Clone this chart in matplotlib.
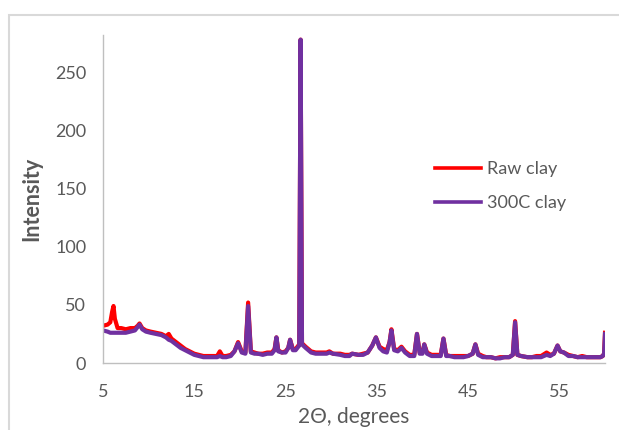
import matplotlib

matplotlib.use("Agg")
import matplotlib.pyplot as plt
from matplotlib.patches import Rectangle

# 2-theta positions shared by both patterns (degrees)
two_theta = [
    5.0, 5.5, 5.8, 6.0, 6.15, 6.3, 6.6, 7.0, 7.5, 8.0,
    8.5, 8.8, 9.0, 9.3, 9.7, 10.2, 10.8, 11.4, 11.9, 12.2,
    12.5, 13.0, 13.5, 14.0, 14.5, 15.0, 15.5, 16.0, 16.5, 17.0,
    17.5, 17.8, 18.1, 18.5, 19.0, 19.4, 19.8, 20.2, 20.6, 20.9,
    21.2, 21.6, 22.0, 22.5, 23.0, 23.5, 23.8, 24.0, 24.2, 24.6,
    25.0, 25.3, 25.5, 25.8, 26.1, 26.5, 26.65, 26.8, 27.2, 27.5,
    27.8, 28.3, 29.0, 29.5, 29.8, 30.2, 31.0, 31.5, 32.0, 32.3,
    33.0, 33.5, 34.0, 34.5, 34.9, 35.3, 35.7, 36.1, 36.4, 36.6,
    36.9, 37.3, 37.7, 38.1, 38.6, 39.1, 39.4, 39.7, 40.0, 40.2,
    40.5, 41.0, 41.5, 42.0, 42.3, 42.6, 43.0, 43.5, 44.0, 44.5,
    45.0, 45.5, 45.8, 46.1, 46.6, 47.0, 47.5, 48.0, 48.5, 49.0,
    49.5, 49.9, 50.15, 50.4, 50.8, 51.5, 52.0, 52.5, 53.0, 53.6,
    54.0, 54.4, 54.8, 55.1, 55.5, 56.0, 56.5, 57.0, 57.5, 58.0,
    58.5, 59.0, 59.5, 59.75, 59.9, 60.0,
]

raw_clay = [
    32, 33, 35, 44, 49, 38, 30, 30, 29, 30,
    30, 32, 34, 30, 28, 27, 26, 25, 23, 25,
    21, 18, 15, 12, 10, 8, 7, 6, 6, 6,
    6, 10, 6, 6, 7, 10, 18, 10, 9, 52,
    10, 9, 8, 8, 9, 9, 12, 22, 11, 9,
    10, 13, 20, 12, 12, 16, 278, 17, 14, 12,
    10, 9, 9, 9, 10, 8, 8, 7, 7, 8,
    7, 8, 9, 15, 22, 14, 12, 11, 18, 29,
    12, 11, 14, 10, 7, 7, 25, 9, 9, 16,
    9, 7, 7, 7, 21, 7, 6, 6, 6, 6,
    6, 8, 16, 8, 6, 5, 5, 4, 5, 5,
    5, 7, 36, 7, 6, 5, 5, 6, 6, 9,
    7, 8, 15, 10, 9, 7, 6, 5, 6, 5,
    5, 5, 5, 6, 8, 26,
]

clay_300c = [
    28, 27, 26, 26, 26, 26, 26, 26, 26, 27,
    28, 31, 33, 29, 27, 26, 25, 24, 22, 20,
    19, 16, 13, 11, 9, 7, 6, 5, 5, 5,
    5, 6, 5, 5, 6, 10, 17, 9, 8, 49,
    9, 8, 8, 7, 8, 8, 11, 22, 10, 9,
    9, 13, 20, 11, 11, 15, 278, 16, 13, 11,
    9, 8, 8, 8, 9, 8, 7, 6, 6, 8,
    7, 7, 9, 15, 22, 13, 10, 9, 18, 28,
    11, 10, 13, 9, 6, 6, 25, 8, 8, 16,
    8, 6, 6, 6, 21, 6, 6, 5, 5, 5,
    6, 8, 16, 7, 5, 5, 5, 4, 4, 5,
    5, 7, 35, 7, 6, 5, 5, 5, 5, 7,
    6, 8, 15, 10, 9, 6, 6, 5, 5, 5,
    5, 5, 5, 6, 8, 25,
]

x_ticks = [5, 15, 25, 35, 45, 55]
y_ticks = [0, 50, 100, 150, 200, 250]

RED = "#FF0000"
PURPLE = "#7030A0"
TICK = "#595959"
AXIS = "#BFBFBF"
FRAME = "#D9D9D9"

plt.rcParams["font.family"] = ["Lato", "DejaVu Sans"]

W, H = 619, 430
fig = plt.figure(figsize=(W / 100, H / 100), dpi=100, facecolor="white")

# outer chart border
fig.patches.append(
    Rectangle((9 / W, -0.05), 1.1, (H - 15) / H + 0.05, transform=fig.transFigure,
              fill=False, edgecolor=FRAME, linewidth=1.5)
)

ax = fig.add_axes([103 / W, (H - 363) / H, (605 - 103) / W, (363 - 35) / H])
ax.plot(two_theta, raw_clay, color=RED, linewidth=3.0, label="Raw clay",
        solid_joinstyle="round")
ax.plot(two_theta, clay_300c, color=PURPLE, linewidth=3.0, label="300C clay",
        solid_joinstyle="round")

ax.set_xlim(5, 60)
ax.set_ylim(0, 282)
ax.set_xticks(x_ticks)
ax.set_yticks(y_ticks)
ax.tick_params(length=0, labelsize=13, labelcolor=TICK)
ax.tick_params(axis="x", pad=15)
ax.tick_params(axis="y", pad=12)
for side in ("top", "right"):
    ax.spines[side].set_visible(False)
for side in ("left", "bottom"):
    ax.spines[side].set_color(AXIS)
    ax.spines[side].set_linewidth(1.0)

ax.set_xlabel("2\u0398, degrees", fontsize=15, color=TICK, labelpad=5)
ax.set_ylabel("Intensity", fontsize=15.5, color=TICK, fontweight="bold", labelpad=9)

leg = ax.legend(loc="upper left", bbox_to_anchor=(0.628, 0.665), frameon=False,
                fontsize=13, handlelength=2.6, handletextpad=0.3, labelspacing=1.0)
for t in leg.get_texts():
    t.set_color(TICK)
for line in leg.get_lines():
    line.set_linewidth(2.6)

fig.savefig("out.png", dpi=100, facecolor="white")
